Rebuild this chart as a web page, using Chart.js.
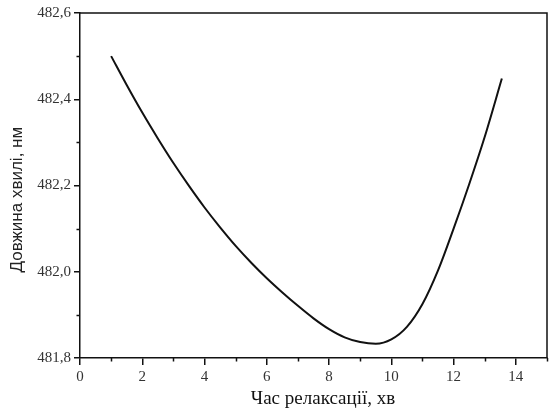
<!DOCTYPE html>
<html>
<head>
<meta charset="utf-8">
<script src="https://cdn.jsdelivr.net/npm/chart.js@4"></script>
<style>
    html, body { margin: 0; padding: 0; background: #fff; }
    #wrap { width: 550px; height: 410px; }
</style>
</head>
<body>
<div id="wrap"><canvas id="waveChart"></canvas></div>
<script>
const relaxTime = [1, 1.5, 2, 2.5, 3, 3.5, 4, 4.5, 5, 5.5, 6, 6.5, 7, 7.5, 8, 8.5, 9, 9.5, 10, 10.5, 11, 11.5, 12, 12.5, 13, 13.55];
const waveLength = [482.500, 482.433, 482.369, 482.309, 482.252, 482.199, 482.149, 482.103, 482.060, 482.021,
    481.985, 481.952, 481.921, 481.892, 481.867, 481.848, 481.837, 481.833, 481.843, 481.872,
    481.925, 482.003, 482.100, 482.203, 482.313, 482.448];
const xTicks = [0, 2, 4, 6, 8, 10, 12, 14];
const yTicks = [481.8, 482.0, 482.2, 482.4, 482.6];

const points = relaxTime.map(function (t, i) {
    return { x: t, y: waveLength[i] };
});

function isMajorX(v) {
    return xTicks.indexOf(Math.round(v * 10) / 10) !== -1;
}
function isMajorY(v) {
    return yTicks.some(function (t) { return Math.abs(t - v) < 1e-6; });
}

// frame on top/right and short minor ticks
const framePlugin = {
    id: "frame",
    afterDraw: function (chart) {
        const ctx = chart.ctx;
        const a = chart.chartArea;
        const xs = chart.scales.x;
        const ys = chart.scales.y;
        ctx.save();
        ctx.strokeStyle = "#111";
        ctx.lineWidth = 1.5;
        ctx.beginPath();
        ctx.moveTo(a.left, a.top);
        ctx.lineTo(a.right, a.top);
        ctx.lineTo(a.right, a.bottom);
        ctx.stroke();

        ctx.beginPath();
        xs.ticks.forEach(function (t) {
            if (!isMajorX(t.value)) {
                const px = Math.round(xs.getPixelForValue(t.value)) + 0.5;
                ctx.moveTo(px, a.bottom);
                ctx.lineTo(px, a.bottom + 3.5);
            }
        });
        ys.ticks.forEach(function (t) {
            if (!isMajorY(t.value)) {
                const py = Math.round(ys.getPixelForValue(t.value)) + 0.5;
                ctx.moveTo(a.left, py);
                ctx.lineTo(a.left - 3.5, py);
            }
        });
        ctx.stroke();
        ctx.restore();
    }
};

const canvas = document.getElementById("waveChart");
new Chart(canvas.getContext("2d"), {
    type: "scatter",
    data: {
        datasets: [{
            data: points,
            showLine: true,
            borderColor: "#111",
            borderWidth: 2,
            pointRadius: 0,
            cubicInterpolationMode: "monotone",
            fill: false
        }]
    },
    options: {
        responsive: true,
        maintainAspectRatio: false,
        animation: false,
        plugins: {
            legend: { display: false },
            tooltip: { enabled: false }
        },
        layout: {
            padding: { top: 13, right: 1, bottom: 0, left: 0 }
        },
        scales: {
            x: {
                type: "linear",
                min: 0,
                max: 15,
                afterFit: function (scale) { scale.height = 52; },
                ticks: {
                    stepSize: 1,
                    padding: 3,
                    maxRotation: 0,
                    autoSkip: false,
                    color: "#333",
                    font: { family: "'Liberation Serif', serif", size: 15 },
                    callback: function (value) {
                        return isMajorX(value) ? String(value) : "";
                    }
                },
                grid: {
                    drawOnChartArea: false,
                    tickLength: 7,
                    lineWidth: 1.5,
                    tickColor: function (c) {
                        return c.tick && isMajorX(c.tick.value) ? "#111" : "rgba(0,0,0,0)";
                    }
                },
                border: { display: true, color: "#111", width: 1.5 },
                title: {
                    display: true,
                    text: "\u00a0\u00a0\u00a0\u00a0Час релаксації, хв",
                    color: "#111",
                    font: { family: "'Liberation Serif', serif", size: 19 },
                    padding: { top: 0, bottom: 0 }
                }
            },
            y: {
                min: 481.8,
                max: 482.6,
                afterFit: function (scale) { scale.width = 80; },
                ticks: {
                    stepSize: 0.1,
                    padding: 3,
                    autoSkip: false,
                    color: "#333",
                    font: { family: "'Liberation Serif', serif", size: 15 },
                    callback: function (value) {
                        return isMajorY(value) ? value.toFixed(1).replace(".", ",") : "";
                    }
                },
                grid: {
                    drawOnChartArea: false,
                    tickLength: 6,
                    lineWidth: 1.5,
                    tickColor: function (c) {
                        return c.tick && isMajorY(c.tick.value) ? "#111" : "rgba(0,0,0,0)";
                    }
                },
                border: { display: true, color: "#111", width: 1.5 },
                title: {
                    display: true,
                    text: "Довжина хвилі, нм\u00a0\u00a0\u00a0\u00a0\u00a0\u00a0",
                    color: "#222",
                    font: { family: "'Liberation Sans', sans-serif", size: 17 },
                    padding: { top: 7, bottom: 4 }
                }
            }
        }
    },
    plugins: [framePlugin]
});
</script>
</body>
</html>
